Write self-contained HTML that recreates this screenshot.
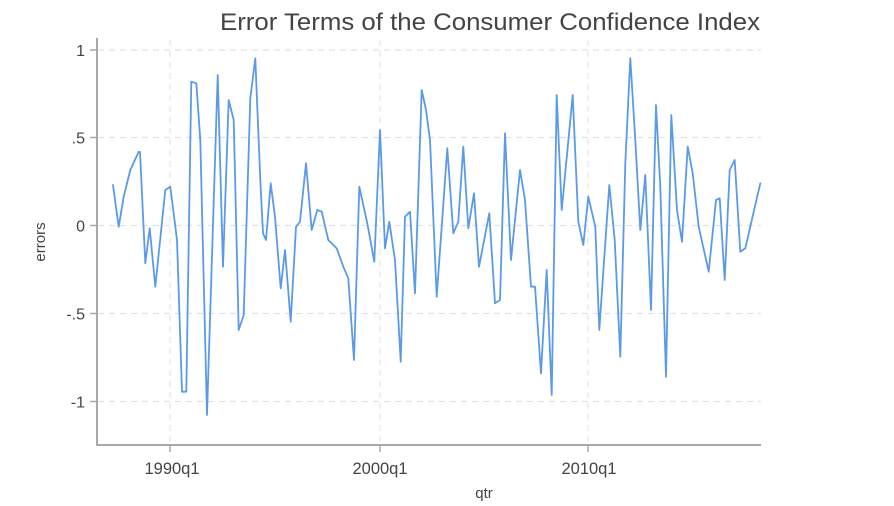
<!DOCTYPE html>
<html>
<head>
<meta charset="utf-8">
<style>
  html, body { margin:0; padding:0; background:#ffffff; }
  body { width:894px; height:506px; overflow:hidden; }
  svg { display:block; }
  text { font-family: "Liberation Sans", Arial, sans-serif; fill:#444; }
</style>
</head>
<body>
<svg width="894" height="506" viewBox="0 0 894 506" xmlns="http://www.w3.org/2000/svg">
  <rect x="0" y="0" width="894" height="506" fill="#ffffff"/>

  <!-- Title -->
  <text x="220" y="30" font-size="24" textLength="540" lengthAdjust="spacingAndGlyphs" fill="#333">Error Terms of the Consumer Confidence Index</text>

  <!-- horizontal gridlines -->
  <g stroke="#e2e2e2" stroke-width="1.2" stroke-dasharray="6,5" fill="none">
    <line x1="98" y1="50" x2="761" y2="50"/>
    <line x1="98" y1="137.5" x2="761" y2="137.5"/>
    <line x1="98" y1="225.5" x2="761" y2="225.5"/>
    <line x1="98" y1="313.5" x2="761" y2="313.5"/>
    <line x1="98" y1="401.5" x2="761" y2="401.5"/>
  </g>
  <!-- vertical gridlines -->
  <g stroke="#e6e6e6" stroke-width="1.2" stroke-dasharray="6,5" fill="none">
    <line x1="170" y1="40" x2="170" y2="444"/>
    <line x1="380" y1="40" x2="380" y2="444"/>
    <line x1="588" y1="40" x2="588" y2="444"/>
  </g>

  <!-- data line -->
  <polyline fill="none" stroke="#5b9ae9" stroke-width="1.8" stroke-linejoin="round" stroke-linecap="round"
    points="113,185 118.7,226.7 123.7,196.7 130.3,170 138.7,151.7 140,152 145.3,263.3 149.7,228.3 155.3,286.7 165.3,190 170.3,186.7 177,240 182,391.7 186.3,391.7 191.3,81.7 196.3,83.3 200.3,140 207,415 217.7,75 223,266.7 228.7,100 233.7,120 238.7,330 243.7,315 250.3,98.3 255.3,58.3 260.3,180 263,233.3 266,240 270.7,183.3 275,216.7 280.7,288.3 285,250 290.7,321.7 296,226.7 300,221.7 306,163.3 311.7,230 317.3,210 321.7,211.7 328.3,240 336.7,248.3 343.3,266.7 348.3,278.3 354,360 359.3,186.7 367.3,223.3 374.3,261.7 380,130 385,248.3 389.3,221.7 395,260 400.7,361.7 405,216.7 410,211.7 415,293.3 421.7,90 426,110 430,140 436.7,296.7 447.3,148.3 453.3,233.3 458.3,221.7 463.3,146.7 468.3,228.3 474,193.3 479,266.7 489.3,213.3 495,303.3 500,300 505,133.3 511,260 520,170 525,200 531,286.7 535,286.7 541,373.3 546.7,270 551.7,395 556.7,95 561.7,210 572.7,95 578.3,221.7 583.3,245 588.3,196.7 595.3,226.7 599.3,330 609.3,185 614.7,240 620.3,356.7 625.3,163.3 630.3,58.3 635.3,140 640.3,230 645.3,175 651,310 656,105 660.3,186.7 666,376.7 671.3,115 677,210 682,241.7 687.7,146.7 692.7,173.3 698.7,226.7 708.7,271.7 716,200 719.7,198.3 724.7,280 729.7,170 734.7,160 740.3,251.7 745.3,248.3 760.3,183.3"/>

  <!-- axes -->
  <g stroke="#a8a8a8" stroke-width="2" fill="none">
    <line x1="97" y1="38" x2="97" y2="446"/>
    <line x1="96" y1="445" x2="761" y2="445"/>
  </g>
  <!-- y ticks -->
  <g stroke="#a8a8a8" stroke-width="1.5">
    <line x1="90" y1="50" x2="97" y2="50"/>
    <line x1="90" y1="137.5" x2="97" y2="137.5"/>
    <line x1="90" y1="225.5" x2="97" y2="225.5"/>
    <line x1="90" y1="313.5" x2="97" y2="313.5"/>
    <line x1="90" y1="401.5" x2="97" y2="401.5"/>
  </g>
  <!-- x ticks -->
  <g stroke="#a8a8a8" stroke-width="1.5">
    <line x1="170" y1="445" x2="170" y2="452"/>
    <line x1="380" y1="445" x2="380" y2="452"/>
    <line x1="588" y1="445" x2="588" y2="452"/>
  </g>

  <!-- y tick labels -->
  <g font-size="16" text-anchor="end">
    <text x="85" y="56">1</text>
    <text x="85" y="143.5">.5</text>
    <text x="85" y="231.5">0</text>
    <text x="85" y="319.5">-.5</text>
    <text x="85" y="407.5">-1</text>
  </g>

  <!-- x tick labels -->
  <g font-size="16.5" text-anchor="middle">
    <text x="172" y="474">1990q1</text>
    <text x="380" y="474">2000q1</text>
    <text x="589" y="474">2010q1</text>
  </g>

  <!-- axis titles -->
  <text x="0" y="0" font-size="15" text-anchor="middle" transform="translate(45,242) rotate(-90)">errors</text>
  <text x="484" y="498" font-size="15" text-anchor="middle">qtr</text>
</svg>
</body>
</html>
